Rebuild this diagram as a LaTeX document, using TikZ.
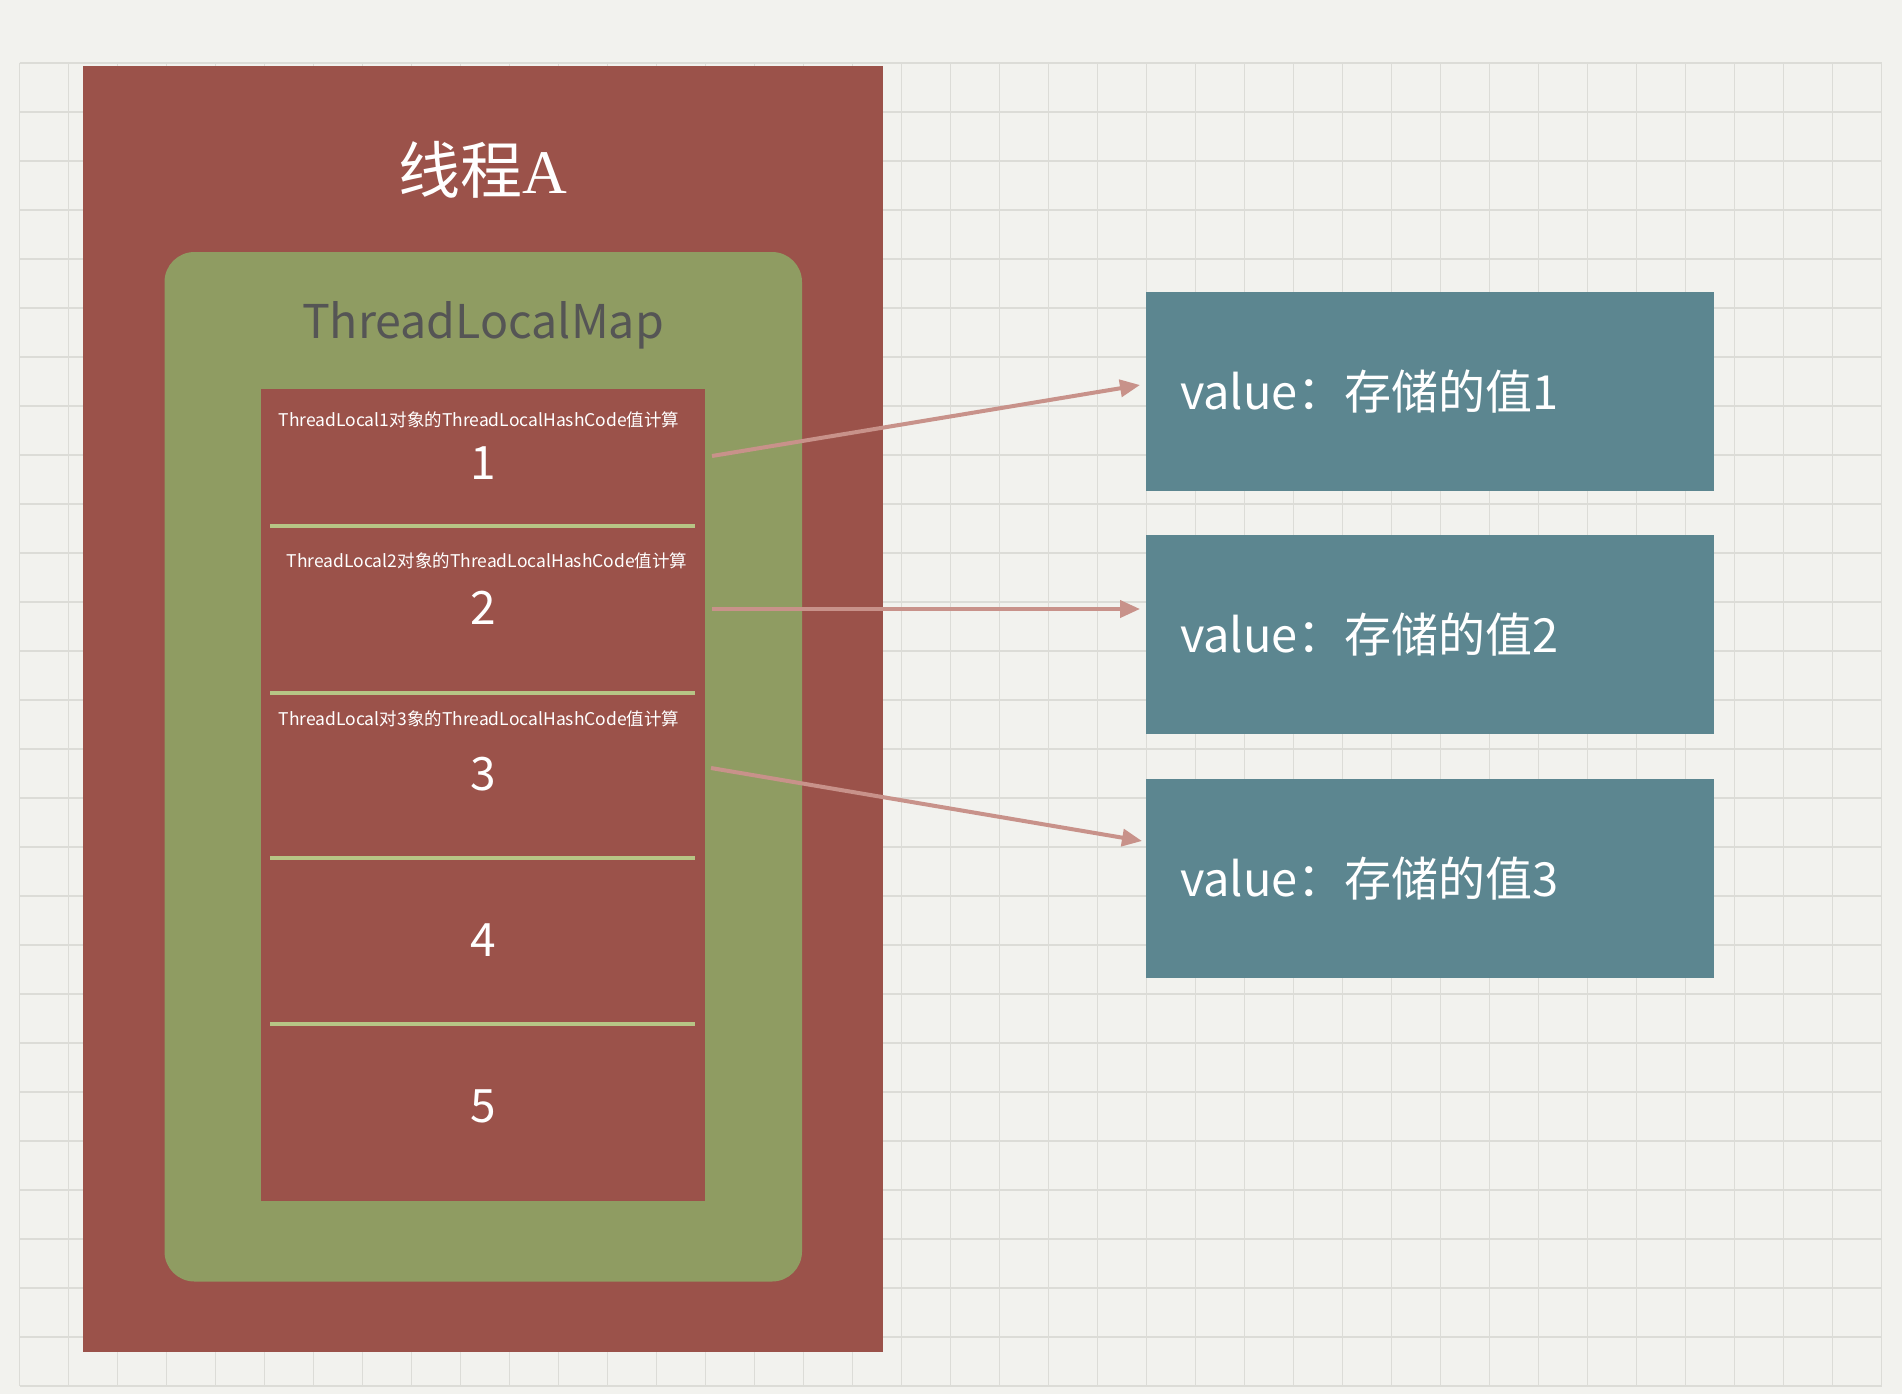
\documentclass[tikz,border=0pt]{standalone}
\usepackage{fontspec}
\setmainfont{Noto Sans CJK SC}
\newfontfamily\cjkfont{Noto Sans CJK SC}
\newfontfamily\serifA{Liberation Serif}
\usetikzlibrary{arrows.meta}
\definecolor{paper}{HTML}{F2F2EE}
\definecolor{gridc}{HTML}{DCDCD7}
\definecolor{threadred}{HTML}{9B524A}
\definecolor{mapgreen}{HTML}{8F9C62}
\definecolor{sepgreen}{HTML}{B7C585}
\definecolor{valblue}{HTML}{5C8690}
\definecolor{arrowc}{HTML}{C8928A}
\definecolor{maptext}{HTML}{555555}
\tikzset{
  gridline/.style={draw=gridc, line width=1.3pt},
  redbox/.style={fill=threadred, draw=none, inner sep=0pt},
  greenbox/.style={fill=mapgreen, draw=none, inner sep=0pt, rounded corners=30pt},
  sepline/.style={draw=sepgreen, line width=3.5pt},
  bluebox/.style={fill=valblue, draw=none, minimum width=568pt, minimum height=199pt,
    inner xsep=34pt, inner ysep=0pt, text width=500pt, align=left, text=white,
    font=\fontsize{47}{47}\selectfont},
  smalllabel/.style={text=white, inner sep=0pt, font=\fontsize{17.5}{17.5}\selectfont},
  numlabel/.style={text=white, inner sep=0pt, font=\fontsize{46}{46}\selectfont},
  conn/.style={draw=arrowc, line width=4pt, -{Triangle[length=20pt,width=17pt]}}
}
\begin{document}
\begin{tikzpicture}[x=1pt,y=-1pt]
\useasboundingbox (0,0) rectangle (1902,1394);
\fill[paper] (0,0) rectangle (1902,1394);
% grid
\foreach \i in {0,...,38} \draw[gridline] ({19.5+49*\i},63) -- ({19.5+49*\i},1386);
\foreach \j in {0,...,27} \draw[gridline] (19.5,{63+49*\j}) -- (1881.5,{63+49*\j});
% thread A
\node[redbox, minimum width=800pt, minimum height=1285pt] (thread) at (483,709) {};
\node[text=white, inner sep=0pt, font=\fontsize{62}{62}\selectfont] (title) at (483,170) {线程\serifA A};
% ThreadLocalMap
\node[greenbox, minimum width=637.5pt, minimum height=1029.5pt] (map) at (483.25,766.75) {};
\node[text=maptext, inner sep=0pt, font=\fontsize{46.5}{46.5}\selectfont] (maptitle) at (483,325) {ThreadLocalMap};
% entries
\node[redbox, minimum width=444pt, minimum height=812pt] (entries) at (483,795) {};
\foreach \y in {526,693,858,1024} \draw[sepline] (270,\y) -- (695,\y);
\node[smalllabel] (l1) at (479,420) {ThreadLocal1对象的ThreadLocalHashCode值计算};
\node[smalllabel] (l2) at (487,561) {ThreadLocal2对象的ThreadLocalHashCode值计算};
\node[smalllabel] (l3) at (479,719) {ThreadLocal对3象的ThreadLocalHashCode值计算};
\node[numlabel] (n1) at (483,463) {1};
\node[numlabel] (n2) at (483,608) {2};
\node[numlabel] (n3) at (483,774) {3};
\node[numlabel] (n4) at (483,940) {4};
\node[numlabel] (n5) at (483,1106) {5};
% values
\node[bluebox] (v1) at (1430,391.5) {value：存储的值1};
\node[bluebox] (v2) at (1430,634.5) {value：存储的值2};
\node[bluebox] (v3) at (1430,878.5) {value：存储的值3};
% connectors
\coordinate (s1) at (712,456);
\coordinate (s2) at (712,609);
\coordinate (s3) at (711,768);
\coordinate (t1) at (1140,385);
\coordinate (t2) at (1140,609);
\coordinate (t3) at (1142,841);
\draw[conn] (s1) -- (t1);
\draw[conn] (s2) -- (t2);
\draw[conn] (s3) -- (t3);
\end{tikzpicture}
\end{document}
